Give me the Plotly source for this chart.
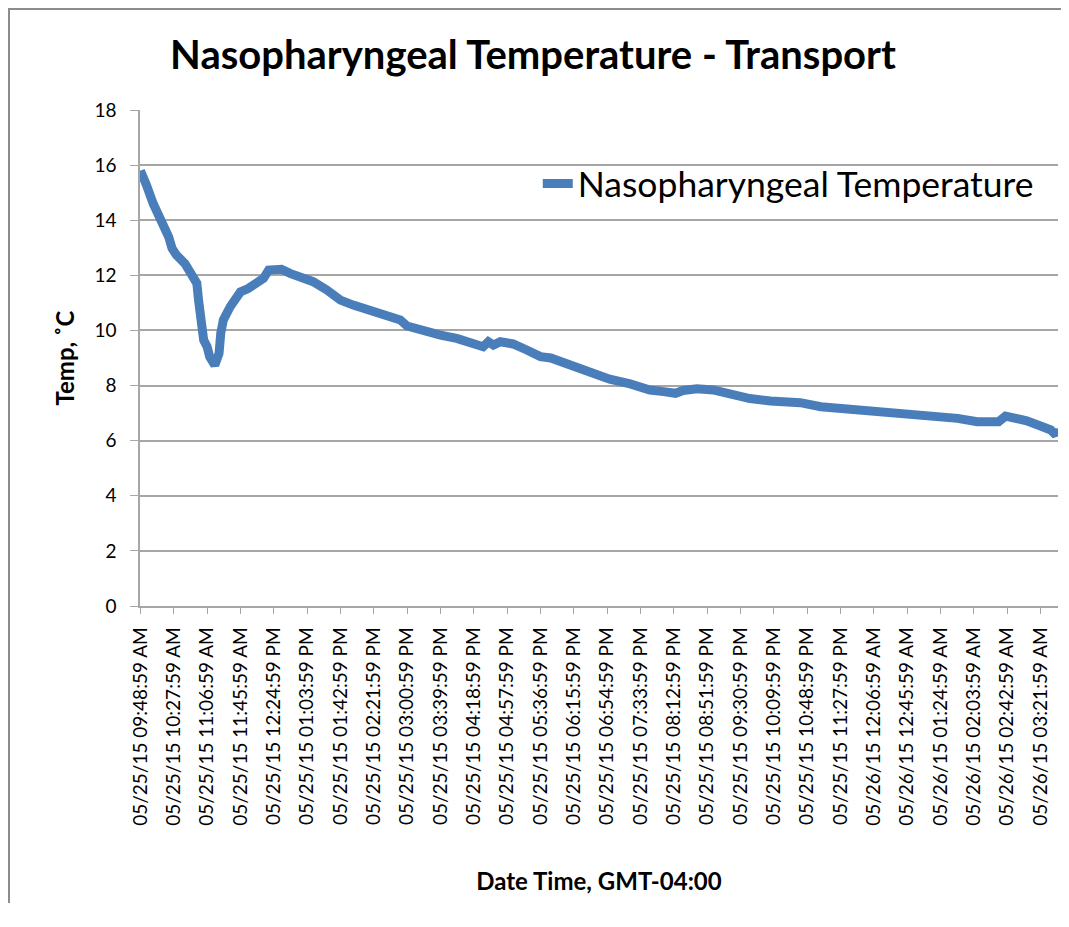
"""
Nasopharyngeal temperature during transport - line chart (Excel-style look)
"""

import pandas as pd
import plotly.graph_objects as go

# logger start time and readings (minutes after start, deg C)
START_TIME = "2015-05-25 09:48:59"
minutes_elapsed = [
    0, 3, 7, 15, 25, 33, 37, 42, 52, 60, 66, 68, 70, 73, 74, 78, 81, 87, 92, 94,
    97, 105, 117, 126, 134, 144, 150, 159, 165, 175, 187, 202, 218, 234, 249, 269,
    280, 296, 304, 312, 331, 351, 370, 390, 401, 407, 413, 421, 436, 452, 468, 480,
    503, 526, 549, 573, 596, 612, 626, 635, 651, 670, 690, 713, 737, 752, 772, 796,
    819, 850, 881, 909, 936, 956, 979, 998, 1004, 1012, 1022, 1037, 1053, 1065,
    1071, 1072,
]
temp_c = [
    15.8, 15.6, 15.28, 14.6, 13.95, 13.4, 12.98, 12.74, 12.43, 12.07, 11.71, 11.1,
    10.62, 10.38, 9.65, 9.41, 9.05, 8.74, 9.17, 9.9, 10.38, 10.86, 11.4, 11.52,
    11.71, 11.89, 12.19, 12.22, 12.22, 12.07, 11.97, 11.77, 11.47, 11.1, 10.92,
    10.74, 10.68, 10.5, 10.38, 10.16, 9.96, 9.83, 9.71, 9.53, 9.41, 9.59, 9.47,
    9.59, 9.51, 9.29, 9.05, 9.0, 8.74, 8.47, 8.23, 8.06, 7.84, 7.78, 7.72, 7.82,
    7.88, 7.84, 7.69, 7.53, 7.44, 7.41, 7.38, 7.23, 7.17, 7.11, 7.01, 6.99, 6.89,
    6.81, 6.69, 6.63, 6.69, 6.89, 6.85, 6.72, 6.53, 6.39, 6.2, 6.45,
]
y_ticks = [0, 2, 4, 6, 8, 10, 12, 14, 16, 18]

LINE_BLUE = "#4A7EBB"
GRID_GRAY = "#A6A6A6"
FRAME_GRAY = "#8C8C8C"
FONT = "Lato, 'Open Sans', sans-serif"

times = pd.to_datetime(START_TIME) + pd.to_timedelta(minutes_elapsed, unit="min")

fig = go.Figure()
fig.add_trace(go.Scatter(
    x=times,
    y=temp_c,
    mode="lines",
    name="Nasopharyngeal Temperature",
    line=dict(color=LINE_BLUE, width=9, shape="linear"),
))

# page body has an 8px margin, so the figure is kept smaller than the window;
# plot area lands at x 140..1058, y 110..606 on the page
fig.update_layout(
    width=1053,
    height=895,
    margin=dict(l=132, r=3, t=102, b=297),
    paper_bgcolor="white",
    plot_bgcolor="white",
    font=dict(family=FONT, color="black"),
    title=dict(
        text="<b>Nasopharyngeal Temperature - Transport</b>",
        font=dict(size=40, family=FONT, color="black"),
        xref="container", x=525 / 1053, xanchor="center",
        yref="container", y=1 - 47 / 895, yanchor="middle",
    ),
    showlegend=True,
    legend=dict(
        x=0.4333, xanchor="left",
        y=0.851, yanchor="middle",
        bgcolor="rgba(0,0,0,0)",
        font=dict(size=35.5, family=FONT, color="black"),
    ),
)

fig.update_xaxes(
    type="date",
    range=["2015-05-25 09:48:29", "2015-05-26 03:42:29"],
    tick0=START_TIME,
    dtick=39 * 60 * 1000,
    tickformat="%m/%d/%y %I:%M:%S %p",
    tickangle=-90,
    tickfont=dict(size=19, family=FONT, color="black"),
    ticks="outside",
    ticklen=6,
    tickcolor=GRID_GRAY,
    ticklabelstandoff=6,
    showline=True,
    linecolor=GRID_GRAY,
    linewidth=1.5,
    showgrid=False,
    title=dict(text="<b>Date Time, GMT-04:00</b>", font=dict(size=24, family=FONT), standoff=48),
)

fig.update_yaxes(
    range=[0, 18],
    tickvals=y_ticks,
    tickfont=dict(size=19, family=FONT, color="black"),
    ticks="outside",
    ticklen=8,
    tickcolor=GRID_GRAY,
    ticklabelstandoff=10,
    showline=True,
    linecolor=GRID_GRAY,
    linewidth=1.5,
    showgrid=True,
    gridcolor=GRID_GRAY,
    gridwidth=1.5,
    zeroline=False,
    title=dict(text="<b>Temp, ˚C</b>", font=dict(size=24, family=FONT), standoff=13),
)

# outer chart frame; its right and bottom edges fall outside the page (cropped)
fig.add_shape(type="rect", xref="paper", yref="paper", layer="below",
              x0=-0.1427, x1=1.5, y0=-1.5, y1=1.2036,
              line=dict(color=FRAME_GRAY, width=2))

fig.write_html("out.html")
